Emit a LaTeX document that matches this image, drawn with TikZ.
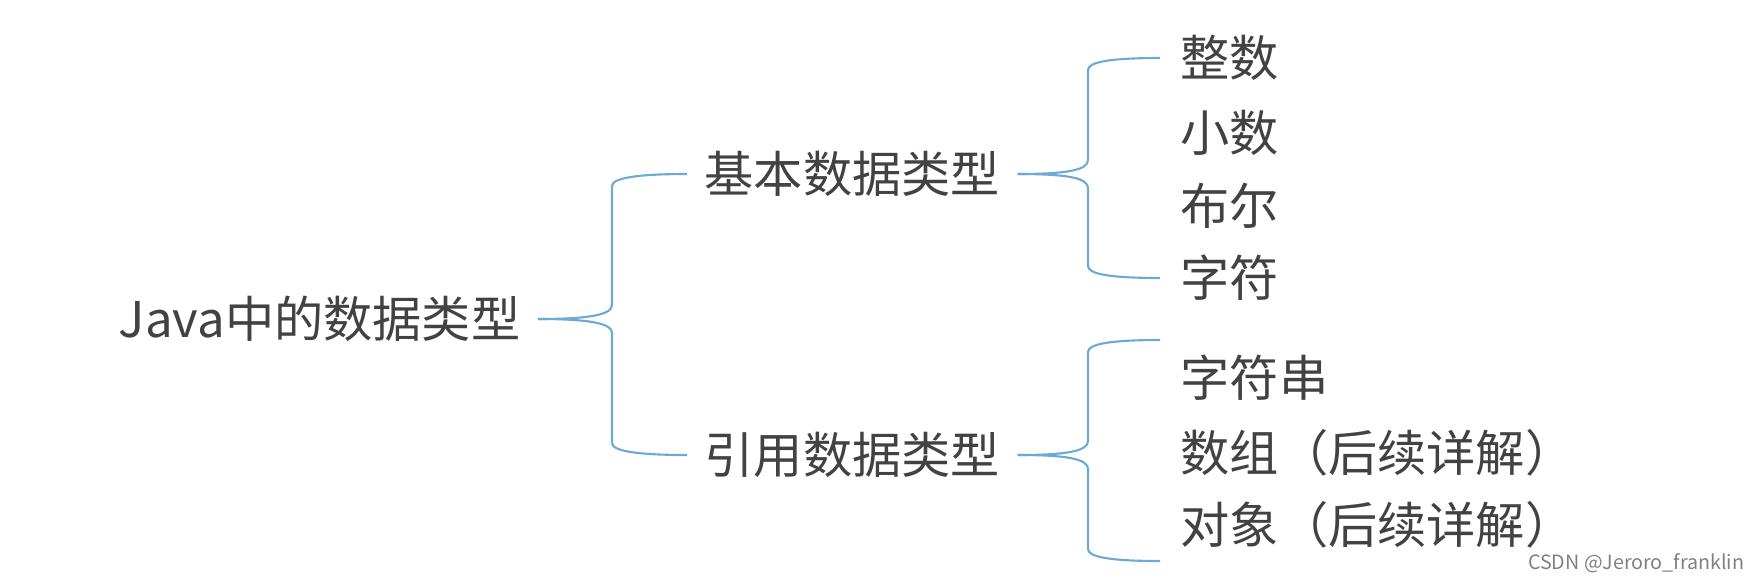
\documentclass[tikz,border=0pt]{standalone}
\usepackage{fontspec}
\newfontfamily\cjk{Noto Sans CJK SC}
\usetikzlibrary{calc}
\definecolor{rama}{RGB}{108,170,214}
\definecolor{texto}{RGB}{66,66,66}
\tikzset{
  tema/.style={font=\cjk\fontsize{14pt}{16pt}\selectfont, text=texto, anchor=west, inner xsep=0.17cm, inner ysep=0pt},
  hoja/.style={tema, inner xsep=0.2cm},
  llave/.style={draw=rama, line width=0.6pt},
}
\begin{document}
\begin{tikzpicture}
    \useasboundingbox (0,0) rectangle (17.58,5.82);
    % Nodos principales
    \node[tema] (java) at (1.01,2.63) {Java中的数据类型};
    \node[tema] (basico) at (6.87,4.08) {基本数据类型};
    \node[tema] (refer) at (6.87,1.27) {引用数据类型};

    % Hojas de los tipos basicos
    \node[hoja] (entero) at (11.60,5.24) {整数};
    \node[hoja] (decimal) at (11.60,4.49) {小数};
    \node[hoja] (bool) at (11.60,3.76) {布尔};
    \node[hoja] (caracter) at (11.60,3.04) {字符};

    % Hojas de los tipos de referencia
    \node[hoja] (cadena) at (11.60,2.04) {字符串};
    \node[hoja] (arreglo) at (11.60,1.29) {数组（后续详解）};
    \node[hoja] (objeto) at (11.60,0.57) {对象（后续详解）};

    % Ejes de las llaves y extremos libres
    \coordinate (e1) at (6.12,0);
    \coordinate (e2) at (10.88,0);
    \coordinate (rsup) at (11.60,2.42);
    \coordinate (rinf) at (11.60,0.21);

    % Llave principal
    \draw[llave] (java.east) .. controls +(0.5,0) and +(0,-0.1) .. ($(e1 |- java.east)+(0,0.14)$)
        -- ($(e1 |- basico.west)+(0,-0.12)$) .. controls +(0,0.08) and +(-0.5,0) .. (basico.west);
    \draw[llave] (java.east) .. controls +(0.5,0) and +(0,0.1) .. ($(e1 |- java.east)+(0,-0.14)$)
        -- ($(e1 |- refer.west)+(0,0.12)$) .. controls +(0,-0.08) and +(-0.5,0) .. (refer.west);

    % Llave de tipos basicos
    \draw[llave] (basico.east) .. controls +(0.5,0) and +(0,-0.1) .. ($(e2 |- basico.east)+(0,0.14)$)
        -- ($(e2 |- entero.west)+(0,-0.12)$) .. controls +(0,0.08) and +(-0.5,0) .. (entero.west);
    \draw[llave] (basico.east) .. controls +(0.5,0) and +(0,0.1) .. ($(e2 |- basico.east)+(0,-0.14)$)
        -- ($(e2 |- caracter.west)+(0,0.12)$) .. controls +(0,-0.08) and +(-0.5,0) .. (caracter.west);

    % Llave de tipos de referencia
    \draw[llave] (refer.east) .. controls +(0.5,0) and +(0,-0.1) .. ($(e2 |- refer.east)+(0,0.14)$)
        -- ($(e2 |- rsup)+(0,-0.12)$) .. controls +(0,0.08) and +(-0.5,0) .. (rsup);
    \draw[llave] (refer.east) .. controls +(0.5,0) and +(0,0.1) .. ($(e2 |- refer.east)+(0,-0.14)$)
        -- ($(e2 |- rinf)+(0,0.12)$) .. controls +(0,-0.08) and +(-0.5,0) .. (rinf);

    % Marca de agua
    \node[font=\cjk\fontsize{5.6pt}{6pt}\selectfont, text=gray, anchor=east, inner sep=0pt] (marca) at (17.45,0.19) {CSDN @Jeroro\_franklin};
\end{tikzpicture}
\end{document}
